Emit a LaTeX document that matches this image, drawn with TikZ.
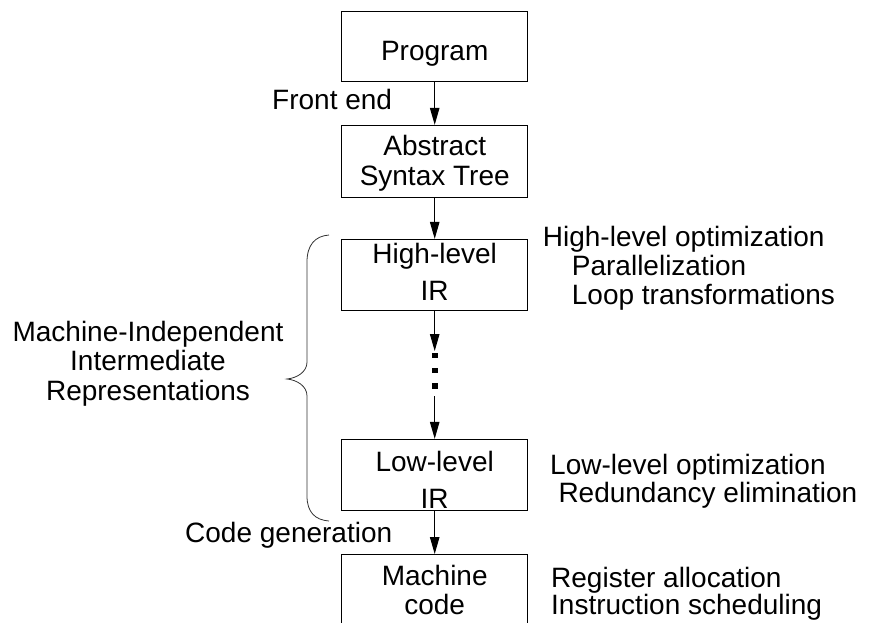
\documentclass[tikz,border=0pt]{standalone}
\usepackage{fontspec}
\setmainfont{Liberation Sans}
\usetikzlibrary{arrows.meta}
\newcommand\fsz{\fontsize{28}{30}\selectfont}
% boxed text: last baseline #1 below the node centre, line pitch #2
\newcommand\bt[3]{\raisebox{-#1}[0pt][0pt]{\fontsize{28}{#2}\selectfont\begin{tabular}[b]{@{}c@{}}#3\end{tabular}}}
\begin{document}
\begin{tikzpicture}[x=1pt,y=-1pt,
  stage/.style={draw=black, line width=1pt, inner sep=0pt, minimum width=186pt},
  txt/.style={inner sep=0pt, font=\fsz},
  arr/.style={line width=1pt, -{Triangle[length=17pt,width=9.5pt]}},
  brace/.style={draw=black!80, line width=0.8pt},
  dotsq/.style={fill=black}]
\useasboundingbox (0,0) rectangle (877,622);

% stages
\node[stage, minimum height=70pt]   (prog) at (434.7,46.7)  {\bt{13.3pt}{30pt}{Program}};
\node[stage, minimum height=72pt]   (ast)  at (434.7,161.3) {\bt{23.7pt}{30pt}{Abstract\\Syntax Tree}};
\node[stage, minimum height=70.7pt] (hir)  at (434.7,274.7) {\bt{25.3pt}{37pt}{High-level\\IR}};
\node[stage, minimum height=71.4pt] (lir)  at (434.7,475)   {\bt{33.3pt}{36.7pt}{Low-level\\IR}};
\node[stage, minimum height=80pt]   (mc)   at (434.7,594.5) {\bt{19.5pt}{27pt}{Machine\\code}};

% connectors
\coordinate (d1) at (434.7,351);
\coordinate (d2) at (434.7,396);
\draw[arr] (prog) -- (ast);
\draw[arr] (ast) -- (hir);
\draw[arr] (hir) -- (d1);
\draw[arr] (d2) -- (lir);
\draw[arr] (lir) -- (mc);

% vertical ellipsis between the IRs
\foreach \yy in {355.5,370.5,385.7}
  \fill[dotsq] (431.9,\yy-2.8) rectangle (437.5,\yy+2.8);

% connector labels
\node[txt, anchor=base west] (fe) at (272,109.3) {Front end};
\node[txt, anchor=base west] (cg) at (185,542.7) {Code generation};

% brace and its label
\draw[brace] (329,235) .. controls (315,236) and (307,245) .. (307,262)
  -- (307,362) .. controls (307,372) and (297,378) .. (287,379)
  .. controls (297,380) and (307,386) .. (307,396)
  -- (307,496) .. controls (307,512) and (315,520) .. (329,521);
\node[inner sep=0pt] (mi) at (148,400)
  {\bt{0pt}{29.5pt}{Machine-Independent\\Intermediate\\Representations}};

% annotations on the right
\node[txt, anchor=base west] (hlo)  at (542.7,246) {High-level optimization};
\node[txt, anchor=base west] (par)  at (571.7,275) {Parallelization};
\node[txt, anchor=base west] (loop) at (571.7,304) {Loop transformations};
\node[txt, anchor=base west] (llo)  at (550,474)   {Low-level optimization};
\node[txt, anchor=base west] (red)  at (558.3,502.5) {Redundancy elimination};
\node[txt, anchor=base west] (reg)  at (551,587)   {Register allocation};
\node[txt, anchor=base west] (ins)  at (551,614)   {Instruction scheduling};
\end{tikzpicture}
\end{document}
